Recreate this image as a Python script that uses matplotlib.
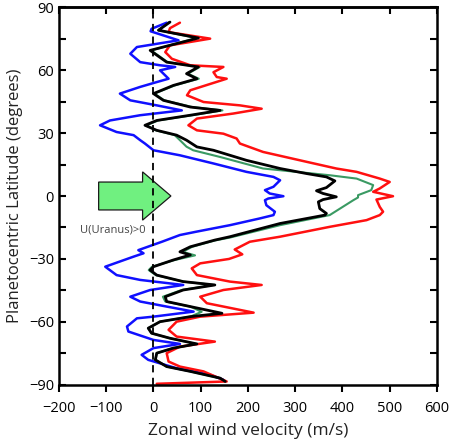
import matplotlib.pyplot as plt
from matplotlib.patches import FancyArrow
from matplotlib.ticker import MultipleLocator

plt.rcParams['font.family'] = ['Open Sans', 'DejaVu Sans']

# zonal wind (m/s) vs planetocentric latitude (deg)
u_black = [35, 10.6, 95, -7, 28, 95, 70, 92, 42, 0, 21, 78, 141, 78, 7, -18, 7, 49, 70, 92,
           127, 197, 268, 324, 366, 384, 366, 345, 359, 387, 359, 349, 352, 366, 363, 268,
           162, 130, 78, 56, 78, 42, 0, -7, 7, 63, 130, 63, 25, 28, 78, 145, 78, 14, -11,
           -4, 35, 92, 42, 7, 4, 28, 78, 141, 152]
lat_black = [82.9, 79, 75.3, 69.4, 63.8, 61.5, 58.3, 55.9, 52.7, 48.8, 45.6, 42.4, 40.8, 38.5,
             36, 33.7, 31.3, 29, 26.6, 23.4, 21.8, 17, 13.1, 10.7, 9.1, 7.2, 4, 2.5, 1.2, -0.4,
             -1.7, -2.8, -6, -8.3, -9.1, -13.1, -19.4, -21, -24.2, -26.6, -28.1, -30.5, -33.7,
             -35.3, -37.7, -40.8, -42.4, -44.8, -48, -50.3, -52.7, -55.9, -57.5, -59.9, -63,
             -65.4, -67.8, -70.5, -72.5, -74.9, -78.1, -81.3, -83.6, -86.8, -88.4]

u_green = [33, 10, 92, -5, 30, 98, 73, 96, 45, 2, 23, 82, 146, 82, 10, -15, 5, 45, 56, 70,
           84, 141, 232, 373, 430, 465, 461, 433, 433, 423, 373, 268, 162, 130, 82, 62, 88,
           45, -3, -10, 5, 63, 128, 60, 20, 25, 78, 102, 78, 14, -11, -4, 35, 90, 42, 7, 4,
           28, 78, 141, 150]
lat_green = [82.9, 79, 75.3, 69.4, 63.8, 61.5, 58.3, 55.9, 52.7, 48.8, 45.6, 42.4, 40.8, 38.5,
             36, 33.7, 31.3, 29, 26.6, 23.5, 21.8, 18.6, 13.1, 9.9, 8.3, 5.2, 2.8, 0.4, -0.7,
             -2, -9.1, -13.9, -19.8, -21.2, -24.2, -26.6, -28.3, -30.5, -33.7, -35.3, -37.7,
             -40.8, -42.4, -44.8, -48, -50.3, -52.7, -55.2, -57.5, -59.9, -63, -65.4, -67.8,
             -70.5, -72.5, -74.9, -78.1, -81.3, -83.6, -86.8, -88.4]

u_red = [56, 35, 32, 120, 35, 25, 39, 78, 148, 127, 134, 155, 78, 71, 106, 183, 229, 169, 92,
         74, 92, 148, 176, 183, 232, 324, 387, 430, 479, 500, 479, 465, 507, 472, 479, 486,
         479, 451, 373, 268, 204, 172, 188, 160, 99, 81, 92, 162, 229, 148, 99, 113, 212, 99,
         49, 32, 49, 130, 56, 28, 32, 56, 106, 155, 7]
lat_red = [82.6, 80, 78.1, 75, 71.8, 68.6, 65.4, 62.3, 61.5, 59, 56.7, 55.9, 50.4, 48, 44.8,
           43.2, 41.6, 39.3, 36.9, 33.7, 31.3, 29.7, 27.4, 25, 21, 16.3, 13.1, 11.5, 8.3, 6.7,
           3.6, 2, -0.1, -1.7, -5.2, -7.5, -9.1, -11.5, -14.7, -19.4, -21.8, -25.5, -27.8, -30,
           -32.1, -34.5, -37.7, -40.8, -42.4, -44.8, -48, -51.1, -55.6, -57.5, -59.9, -63.8,
           -67, -69.4, -71.8, -74.9, -78.9, -81.3, -83.6, -88.4, -89.5]

u_blue = [28, -4, -6, 53, -35, -49, -28, 14, 46, 14, 32, 7, -28, -71, -49, 7, 60, -28, -92,
          -113, -78, -42, -28, -18, 0, 56, 127, 197, 254, 268, 254, 236, 246, 275, 243, 236,
          239, 257, 254, 225, 162, 91, 56, 18, -32, -21, -42, -102, -78, -28, 63, -7, -49,
          -28, 28, 85, 0, -35, -56, -53, 0, 56, 0, -25, -11, 49, 120, 148]
lat_blue = [82.6, 79.7, 78.5, 74.2, 71, 67.8, 63.8, 62.3, 61.5, 59.9, 55.9, 54.3, 52, 48.8,
            45.6, 43.2, 40.8, 38.5, 36, 33.7, 30.5, 29, 26.6, 25, 21.8, 19.4, 15.5, 11.5, 9.1,
            7.5, 4.4, 2.8, 1.2, -0.1, -1.2, -2, -4.4, -7.5, -9.1, -10.7, -13.9, -17, -18.6,
            -21.8, -25.8, -27.3, -28.9, -33.7, -37.7, -40, -42.4, -44.8, -48, -50.3, -52.7,
            -55.1, -57.5, -58.3, -62.2, -64.6, -68.6, -70.5, -72.5, -75.7, -78.1, -82.1,
            -85.2, -87.6]

fig = plt.figure(figsize=(4.5, 4.48), dpi=100)
ax = fig.add_axes([0.131, 0.141, 0.84, 0.843])

kw = dict(solid_joinstyle='round', solid_capstyle='round')
ax.plot(u_green, lat_green, color='#3a9a63', lw=1.5, **kw)
ax.plot(u_blue, lat_blue, color='#1010ff', lw=1.8, **kw)
ax.plot(u_red, lat_red, color='#ff1010', lw=1.8, **kw)
ax.plot(u_black, lat_black, color='black', lw=2.0, **kw)

ax.axvline(0, color='black', ls=(0, (4, 3)), lw=1.3)

ax.add_patch(FancyArrow(-116, 0, 153, 0, width=13.3, head_width=23, head_length=60,
                        length_includes_head=True, fc='#70f080', ec='#1a1a1a', lw=0.9))
ax.text(-85, -16.3, 'U(Uranus)>0', fontsize=8, color='#444444', ha='center', va='center')

ax.set_xlim(-200, 600)
ax.set_ylim(-90, 90)
ax.xaxis.set_major_locator(MultipleLocator(100))
ax.yaxis.set_major_locator(MultipleLocator(30))
ax.yaxis.set_minor_locator(MultipleLocator(15))
ax.tick_params(axis='x', which='major', direction='out', length=5, width=1.5,
               labelsize=10.5, pad=7)
ax.tick_params(axis='y', which='both', direction='in', length=5, width=1.5, right=True,
               labelsize=10.5)
top = ax.secondary_xaxis('top')
top.xaxis.set_major_locator(MultipleLocator(100))
top.tick_params(direction='in', length=5, width=1.5, labeltop=False)
top.spines['top'].set_linewidth(1.8)
for s in ax.spines.values():
    s.set_linewidth(1.8)

ax.set_xlabel('Zonal wind velocity (m/s)', fontsize=12.5, color='#222222', labelpad=5)
ax.set_ylabel('Planetocentric Latitude (degrees)', fontsize=12, color='#222222')

fig.savefig('out.png', dpi=100)
